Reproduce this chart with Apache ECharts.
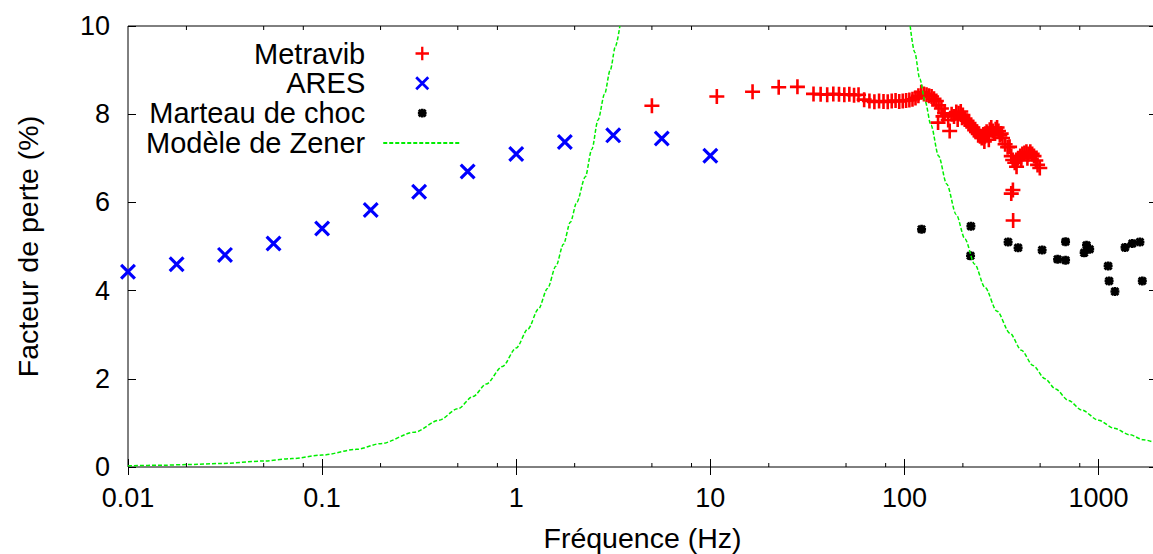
<!DOCTYPE html>
<html><head><meta charset="utf-8">
<script src="https://cdn.jsdelivr.net/npm/echarts@6/dist/echarts.min.js"></script>
<style>html,body{margin:0;padding:0;background:#fff}#c{width:1153px;height:554px}</style>
</head><body><div id="c"></div>
<script>
// ---- data ----
const xTickValues = [0.01, 0.1, 1, 10, 100, 1000];
const xTickLabels = ['0.01', '0.1', '1', '10', '100', '1000'];
const xMinorTicks = [0.02, 0.05, 0.08, 0.2, 0.5, 0.8, 2, 5, 8, 20, 50, 80, 200, 500, 800];
const yTickLabels = ['0', '2', '4', '6', '8', '10'];

const metravibFreq = [5.0, 10.8, 16.5, 22.5, 28.1,
  34, 37, 40, 43, 46, 49, 52, 55, 58,
  62, 66, 70, 74, 78, 82, 86, 90, 94, 98, 102, 106, 110, 114, 118,
  122, 126, 130, 134, 138, 142, 146, 150, 155, 149, 158, 161, 168, 171,
  175, 180, 185, 188, 190, 195, 198, 200, 205, 210, 215, 220, 225, 230,
  235, 240, 245, 250, 255, 258, 260, 265, 270, 272, 275, 280, 285, 290, 295, 300, 305, 310, 315, 320,
  330, 340, 348, 355, 361, 370, 378, 385, 395, 400, 405, 415, 425, 430, 435, 445, 455, 465, 475, 485, 498,
  355, 362, 363];
const metravibLoss = [8.19, 8.40, 8.51, 8.61, 8.62,
  8.46, 8.45, 8.44, 8.46, 8.45, 8.44, 8.45, 8.43, 8.44,
  8.33, 8.30, 8.28, 8.30, 8.29, 8.28, 8.30, 8.31, 8.29, 8.30, 8.31, 8.32, 8.34, 8.37, 8.42,
  8.50, 8.46, 8.44, 8.42, 8.40, 8.35, 8.30, 8.20, 8.13, 7.81, 7.95, 8.02, 7.87, 7.62,
  8.00, 7.95, 8.05, 7.88, 8.02, 8.06, 7.92, 7.98, 7.90, 7.85, 7.80, 7.74, 7.70, 7.64,
  7.60, 7.55, 7.50, 7.46, 7.54, 7.38, 7.50, 7.60, 7.55, 7.42, 7.65, 7.70, 7.62, 7.56, 7.66, 7.70, 7.62, 7.52, 7.56, 7.46,
  7.32, 7.25, 7.26, 7.05, 6.96, 6.90, 6.81, 7.00, 7.05, 6.95, 7.10, 7.12, 7.15, 7.00, 7.10, 7.15, 7.10, 7.05, 6.95, 6.85, 6.78,
  6.20, 6.28, 5.59];

const aresFreq = [0.01, 0.0178, 0.0316, 0.0562, 0.1, 0.178, 0.316, 0.562, 1, 1.78, 3.16, 5.62, 10];
const aresLoss = [4.43, 4.60, 4.81, 5.07, 5.41, 5.83, 6.24, 6.70, 7.10, 7.37, 7.52, 7.45, 7.06];

const marteauFreq = [122.5, 220, 219, 342, 385, 512, 615, 676, 676, 867, 843, 900, 1120, 1133, 1214, 1369, 1492, 1633, 1680];
const marteauLoss = [5.39, 5.46, 4.79, 5.10, 4.97, 4.92, 4.71, 4.69, 5.11, 5.03, 4.86, 4.94, 4.56, 4.22, 3.98, 4.98, 5.07, 5.10, 4.22];

const zenerFreq = [0.01, 0.015, 0.02, 0.03, 0.05, 0.07, 0.1, 0.15, 0.2, 0.3, 0.4, 0.5, 0.6, 0.7, 0.85, 1, 1.15, 1.3, 1.45, 1.6, 1.75, 1.9, 2.05, 2.27, 2.45, 2.64, 2.85, 3.05, 3.25, 3.42,
  20,
  107, 113, 120, 128, 137, 150, 165, 185, 205, 230, 260, 300, 350, 400, 460, 530, 600, 700, 820, 1000, 1200, 1450, 1700, 2000];
const zenerLoss = [0.027, 0.04, 0.054, 0.08, 0.135, 0.19, 0.27, 0.4, 0.53, 0.79, 1.06, 1.32, 1.6, 1.88, 2.28, 2.7, 3.13, 3.58, 4.05, 4.55, 5.05, 5.55, 6.0, 6.58, 7.2, 7.87, 8.45, 9.0, 9.55, 10,
  null,
  10, 9.4, 8.8, 8.28, 7.75, 7.05, 6.42, 5.72, 5.17, 4.6, 4.07, 3.53, 3.03, 2.65, 2.3, 2.0, 1.77, 1.51, 1.29, 1.06, 0.88, 0.73, 0.62, 0.53];

// ---- build ----
const pairs = (xs, ys) => xs.map((x, i) => [x, ys[i] === null ? '-' : ys[i]]);
const FONT = 'Liberation Sans, Arial, Helvetica, sans-serif';
const plusPath = 'path://M-1.3,-7.5H1.3V7.5H-1.3Z M-7.5,-1.3H7.5V1.3H-7.5Z';
const crossPath = 'path://M-1,-0.72L-0.72,-1L1,0.72L0.72,1Z M0.72,-1L1,-0.72L-0.72,1L-1,0.72Z';
const blobPath = 'path://M-1,-0.55L-0.55,-1L1,0.55L0.55,1Z M0.55,-1L1,-0.55L-0.55,1L-1,0.55Z M-0.3,-1H0.3V1H-0.3Z M-1,-0.3H1V0.3H-1Z';
// same glyphs with an empty margin so the legend icons keep the reference size
const blobLegendPath = 'path://M-1.6,-1.6L-1.6,-1.6Z M1.6,1.6L1.6,1.6Z M-1,-0.55L-0.55,-1L1,0.55L0.55,1Z M0.55,-1L1,-0.55L-0.55,1L-1,0.55Z M-0.3,-1H0.3V1H-0.3Z M-1,-0.3H1V0.3H-1Z';
const plusLegendPath = 'path://M-7.3,-7.3L-7.3,-7.3Z M7.3,7.3L7.3,7.3Z M-1.2,-7H1.2V7H-1.2Z M-7,-1.2H7V1.2H-7Z';

const labelFor = v => {
  for (let i = 0; i < xTickValues.length; i++) {
    if (Math.abs(Math.log10(v) - Math.log10(xTickValues[i])) < 1e-6) return xTickLabels[i];
  }
  return '';
};

const chart = echarts.init(document.getElementById('c'), null, {renderer: 'svg'});
const baseX = {
  type: 'log', logBase: 10, min: 0.01, max: 2000,
  axisLine: {show: false}, splitLine: {show: false}, minorTick: {show: false},
  axisTick: {inside: true, length: 8, lineStyle: {color: '#000', width: 1}}
};
const baseY = {
  type: 'value', min: 0, max: 10, interval: 2,
  axisLine: {show: false}, splitLine: {show: false},
  axisTick: {inside: true, length: 8, lineStyle: {color: '#000', width: 1}}
};
chart.setOption({
  animation: false,
  backgroundColor: '#fff',
  textStyle: {fontFamily: FONT},
  grid: {left: 128, top: 26, right: -4, bottom: 87, containLabel: false, outerBoundsMode: 'none',
    show: true, borderColor: '#000', borderWidth: 1, backgroundColor: 'transparent'},
  legend: {
    data: [
      {name: 'Metravib', icon: plusLegendPath},
      {name: 'ARES'},
      {name: 'Marteau de choc', icon: blobLegendPath},
      {name: 'Modèle de Zener', itemStyle: {color: 'rgba(0,0,0,0)', borderWidth: 0, opacity: 0}}
    ],
    orient: 'vertical', left: 146, top: 39, align: 'right', padding: 0,
    itemWidth: 78, itemHeight: 14, itemGap: 0.8, selectedMode: false,
    textStyle: {fontFamily: FONT, fontSize: 29, color: '#000', width: 216, align: 'right', padding: [0, 13, 0, 0]}
  },
  xAxis: [
    Object.assign({}, baseX, {
      position: 'bottom',
      name: 'Fréquence (Hz)', nameLocation: 'middle', nameGap: 56,
      nameTextStyle: {fontFamily: FONT, fontSize: 28.5, color: '#000'},
      axisLabel: {fontFamily: FONT, fontSize: 27, color: '#000', margin: 17, showMaxLabel: false, formatter: labelFor}
    }),
    Object.assign({}, baseX, {position: 'top', axisLabel: {show: false}})
  ],
  yAxis: [
    Object.assign({}, baseY, {
      position: 'left',
      name: 'Facteur de perte (%)', nameLocation: 'middle', nameGap: 86, nameRotate: 90,
      nameTextStyle: {fontFamily: FONT, fontSize: 28.5, color: '#000'},
      axisLabel: {fontFamily: FONT, fontSize: 27, color: '#000', margin: 18, formatter: v => yTickLabels[Math.round(v / 2)]}
    }),
    Object.assign({}, baseY, {position: 'right', axisLabel: {show: false}})
  ],
  series: [
    {name: 'Metravib', type: 'scatter', symbol: plusPath, symbolSize: 15, itemStyle: {color: '#ff0000', opacity: 1}, data: pairs(metravibFreq, metravibLoss)},
    {name: 'ARES', type: 'scatter', symbol: crossPath, symbolSize: 16, itemStyle: {color: '#0000ff', opacity: 1}, data: pairs(aresFreq, aresLoss)},
    {name: 'Marteau de choc', type: 'scatter', symbol: blobPath, symbolSize: 9, itemStyle: {color: '#000', opacity: 1}, data: pairs(marteauFreq, marteauLoss)},
    {name: 'Modèle de Zener', type: 'line', symbol: 'none', showSymbol: false, connectNulls: false, smooth: 0.3, smoothMonotone: 'x',
      lineStyle: {color: '#00ee00', width: 1.5, type: [4, 2]}, itemStyle: {color: '#00ee00'},
      data: pairs(zenerFreq, zenerLoss)},
    {name: 'ticks', type: 'custom', silent: true, clip: false,
      data: xMinorTicks.map(v => [v, 0]),
      encode: {x: 0, y: 1},
      renderItem: (params, api) => {
        const f = api.value(0);
        const b = api.coord([f, 0]);
        const t = api.coord([f, 10]);
        return {type: 'group', children: [
          {type: 'line', shape: {x1: b[0], y1: b[1], x2: b[0], y2: b[1] - 4}, style: {stroke: '#000', lineWidth: 1}},
          {type: 'line', shape: {x1: t[0], y1: t[1], x2: t[0], y2: t[1] + 4}, style: {stroke: '#000', lineWidth: 1}}
        ]};
      }}
  ]
});
</script></body></html>
